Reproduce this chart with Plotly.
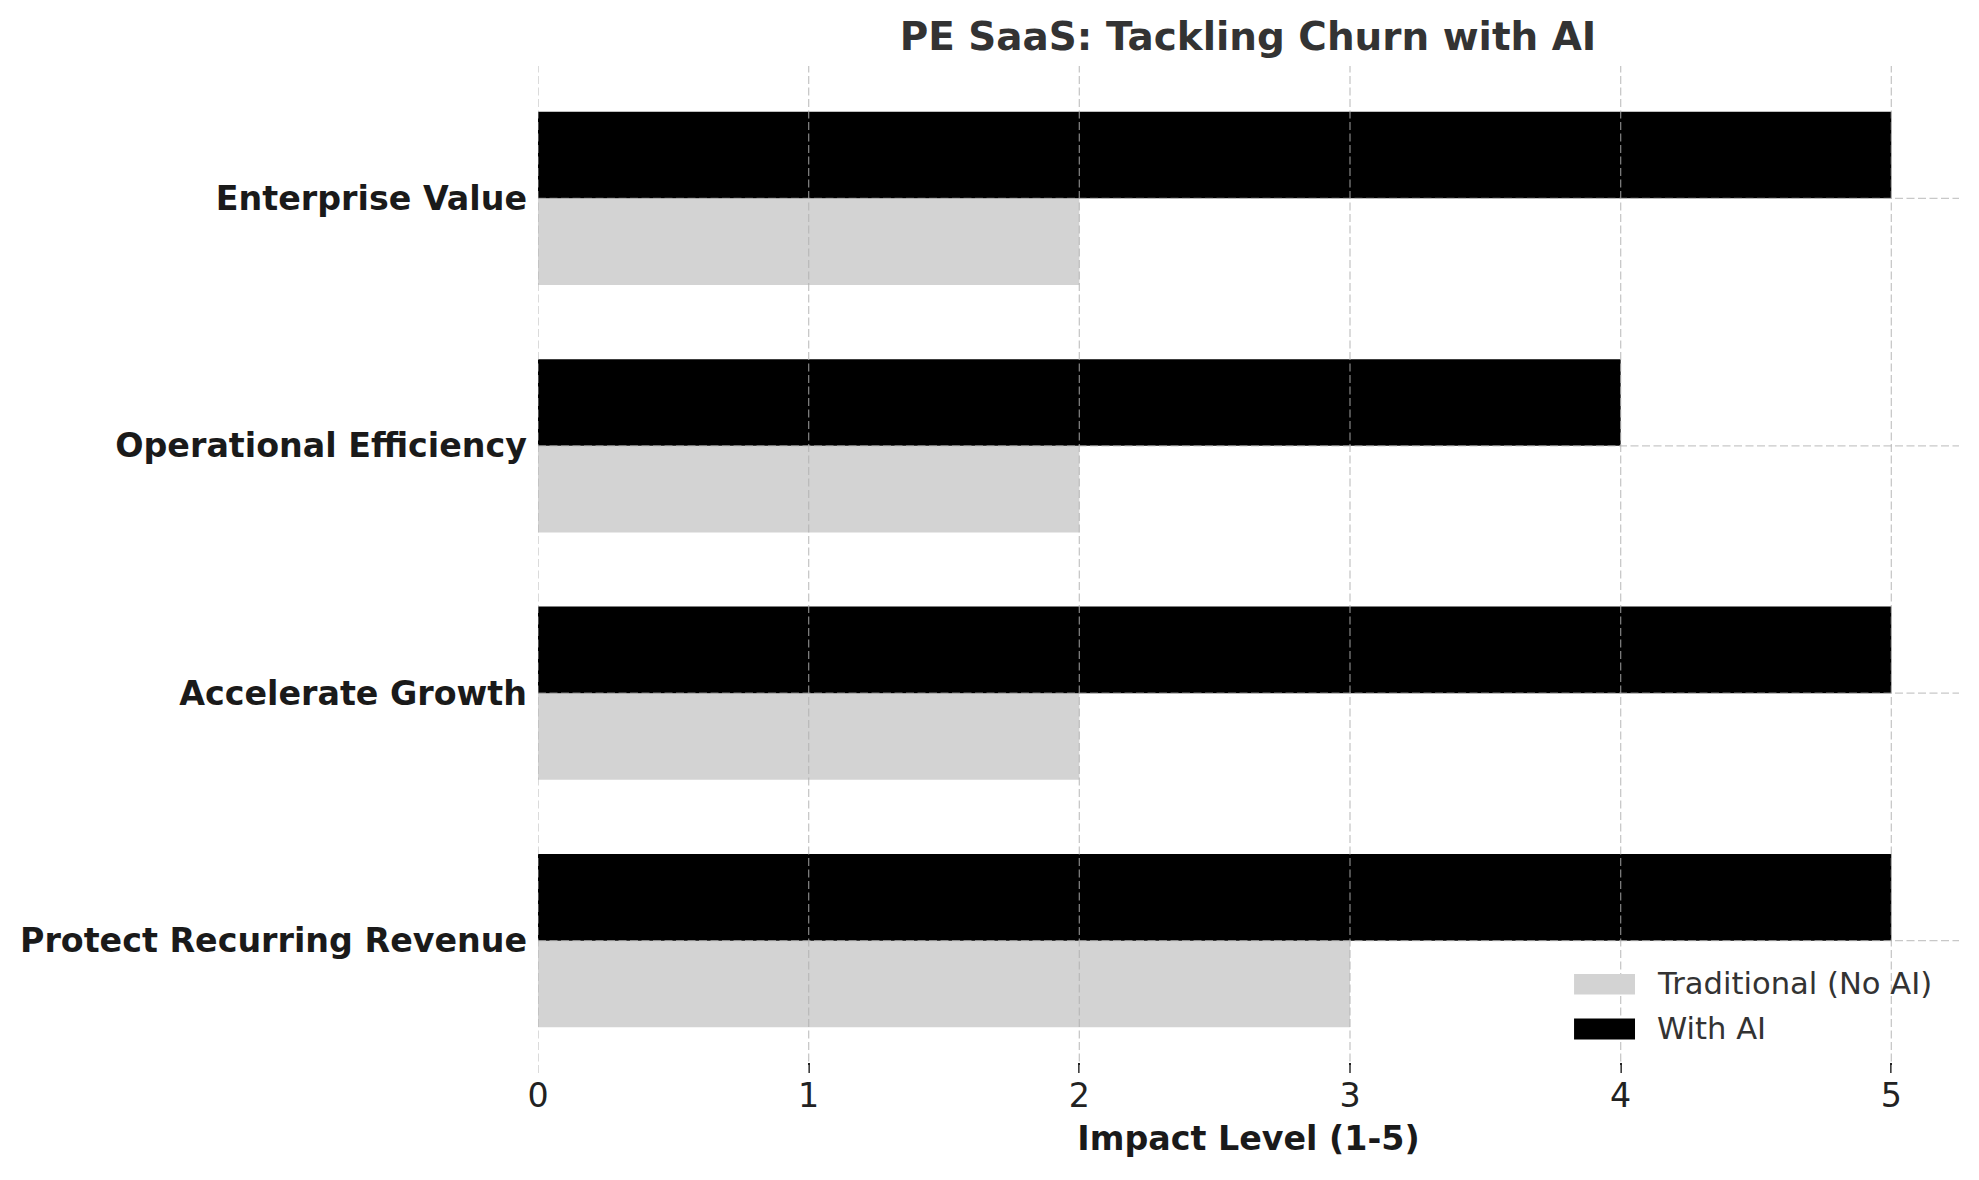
import plotly.graph_objects as go

# ---- data ----
categories = ["Protect Recurring Revenue", "Accelerate Growth",
              "Operational Efficiency", "Enterprise Value"]
traditional = [3, 2, 2, 2]
with_ai = [5, 5, 4, 5]
series_names = ["Traditional (No AI)", "With AI"]
series_colors = ["#d3d3d3", "#000000"]
x_ticks = [0, 1, 2, 3, 4, 5]

FONT = "DejaVu Sans"
fig = go.Figure()
for name, vals, col in zip(series_names, [traditional, with_ai], series_colors):
    fig.add_trace(go.Bar(y=categories, x=vals, orientation="h", name=name,
                         marker=dict(color=col, line=dict(width=0)),
                         showlegend=False))

grid = dict(color="rgba(176,176,176,0.7)", width=1.3, dash="8px,3.5px")
shapes = []
for t in x_ticks:
    shapes.append(dict(type="line", xref="x", yref="paper", x0=t, x1=t, y0=0, y1=1,
                       line=grid, layer="above"))
for c in categories:
    shapes.append(dict(type="line", xref="paper", yref="y", x0=0, x1=1, y0=c, y1=c,
                       line=grid, layer="above"))

# manual legend (matplotlib-like wide patches)
annotations = []
leg_rows = [(0.0983, 0.0780, 0.0884), (0.0541, 0.0333, 0.0437)]
for (ytop, ybot, ymid), name, col in zip(leg_rows, series_names, series_colors):
    shapes.append(dict(type="rect", xref="paper", yref="paper", x0=0.7291, x1=0.7720,
                       y0=ybot, y1=ytop, fillcolor=col, line=dict(width=0), layer="above"))
    annotations.append(dict(xref="paper", yref="paper", x=0.7858, y=ymid, text=name,
                            showarrow=False, xanchor="left", yanchor="middle",
                            font=dict(family=FONT, size=30.6, color="#333333")))

fig.update_layout(
    width=1979, height=1180,
    margin=dict(l=530, r=28, t=58, b=115),
    paper_bgcolor="white", plot_bgcolor="white",
    barmode="group", bargap=0.3, bargroupgap=0,
    font=dict(family=FONT, color="#222222"),
    title=dict(text="PE SaaS: Tackling Churn with AI", x=0.6266, xanchor="center",
               y=0.9759, yanchor="middle", yref="container",
               font=dict(family=FONT, size=38.9, color="#333333", weight="bold")),
    shapes=shapes, annotations=annotations,
)
fig.update_xaxes(range=[0, 5.25], tickvals=x_ticks, showgrid=False, zeroline=False,
                 showline=False, ticks="inside", ticklen=10, tickwidth=2,
                 tickcolor="#222222", tickfont=dict(family=FONT, size=33.3, color="#222222"),
                 title=dict(text="Impact Level (1-5)", standoff=12,
                            font=dict(family=FONT, size=33.3, color="#1a1a1a", weight="bold")))
fig.update_yaxes(range=[-0.535, 3.535], categoryorder="array", categoryarray=categories,
                 showgrid=False, zeroline=False, showline=False, ticks="",
                 ticklabelstandoff=10,
                 tickfont=dict(family=FONT, size=33.3, color="#1a1a1a", weight="bold"))

fig.write_html("out.html")
